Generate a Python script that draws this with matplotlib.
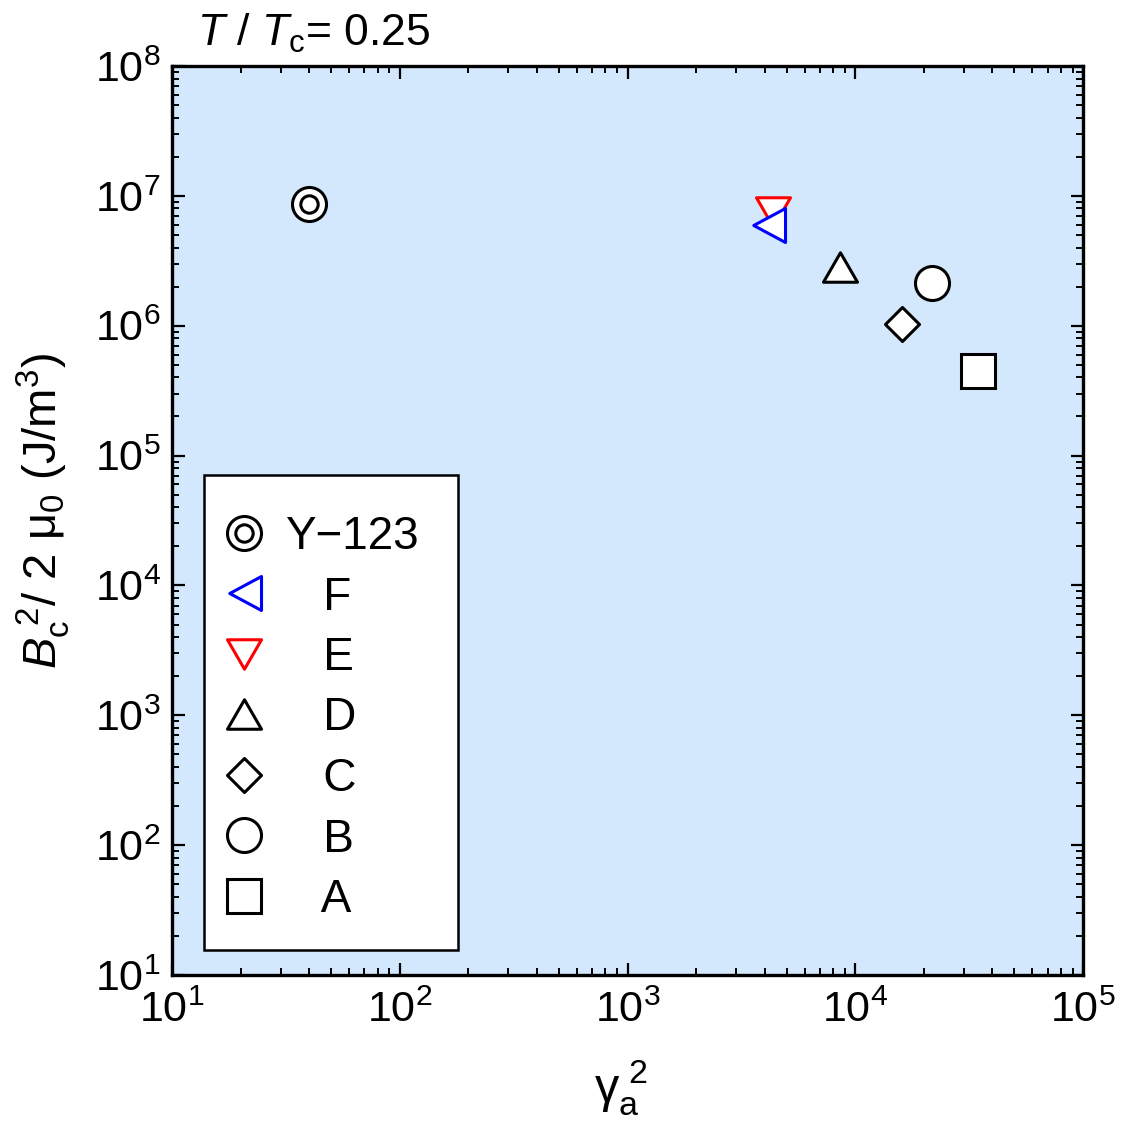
import matplotlib
matplotlib.use("Agg")
import matplotlib.pyplot as plt
from matplotlib.path import Path
from matplotlib.patches import Rectangle
from matplotlib.legend_handler import HandlerTuple
import numpy as np

plt.rcParams['font.family'] = ['Liberation Sans', 'DejaVu Sans']
plt.rcParams['mathtext.fontset'] = 'custom'
plt.rcParams['mathtext.rm'] = 'Liberation Sans'
plt.rcParams['mathtext.it'] = 'Liberation Sans:italic'
plt.rcParams['mathtext.bf'] = 'Liberation Sans:bold'

# ---- data (gamma_a^2, Bc^2/2mu0 in J/m^3) ----
labels = ["Y\u2212123", "F", "E", "D", "C", "B", "A"]
gamma2 = [40.0, 4140.0, 4375.0, 8610.0, 16000.0, 21800.0, 34750.0]
energy = [8.62e6, 5.94e6, 7.55e6, 2.85e6, 1.03e6, 2.14e6, 4.47e5]
colors = ["black", "blue", "red", "black", "black", "black", "black"]

tri_left = Path([(1, -1), (1, 1), (-0.866, 0), (1, -1)], closed=True)
tri_down = Path([(-1, 0.866), (1, 0.866), (0, -0.866), (-1, 0.866)], closed=True)
tri_up = Path([(-1, -0.866), (1, -0.866), (0, 0.866), (-1, -0.866)], closed=True)
diamond = Path([(0, 1), (1, 0), (0, -1), (-1, 0), (0, 1)], closed=True)
markers = [None, tri_left, tri_down, tri_up, diamond, 'o', 's']

fig = plt.figure(figsize=(11.25, 11.27), dpi=100)
ax = fig.add_axes([172/1125, 1 - 975/1127, (1083-172)/1125, (975-66)/1127])
ax.set_facecolor('#D3E8FD')
ax.set_xscale('log')
ax.set_yscale('log')
ax.set_xlim(1e1, 1e5)
ax.set_ylim(1e1, 1e8)

ms = 24.5
mew = 2.2
handles = {}
order = [6, 5, 4, 3, 2, 1, 0]
for i in order:
    if i == 0:
        h1, = ax.plot([gamma2[i]], [energy[i]], ls='none', marker='o', ms=ms,
                      mfc='white', mec='black', mew=mew, zorder=5)
        h2, = ax.plot([gamma2[i]], [energy[i]], ls='none', marker='o', ms=12.5,
                      mfc='white', mec='black', mew=mew, zorder=6)
        handles[i] = (h1, h2)
    else:
        h, = ax.plot([gamma2[i]], [energy[i]], ls='none', marker=markers[i], ms=ms,
                     mfc='white', mec=colors[i], mew=mew, zorder=5)
        handles[i] = h

# legend frame
rect = Rectangle(((204-172)/911, (975-950)/909), (458-204)/911, (950-475)/909,
                 transform=ax.transAxes, facecolor='white', edgecolor='black',
                 lw=1.8, zorder=7)
ax.add_patch(rect)
leg_labels = [labels[0]] + ["   " + l for l in labels[1:]]
leg = ax.legend([handles[i] for i in range(7)], leg_labels,
                handler_map={tuple: HandlerTuple(ndivide=1)},
                loc='upper left', bbox_to_anchor=((221-172)/911, (975-515)/909),
                frameon=False, fontsize=33, borderpad=0, borderaxespad=0,
                handlelength=1.0, handletextpad=0.39, labelspacing=0.36)
leg.set_zorder(8)

for side in ['top', 'bottom', 'left', 'right']:
    ax.spines[side].set_linewidth(2.4)
ax.tick_params(which='both', direction='in', top=True, right=True, labelsize=31)
ax.tick_params(which='major', length=9, width=1.6, pad=8)
ax.tick_params(axis='x', which='major', pad=11)
ax.tick_params(which='minor', length=5, width=1.4)
ax.xaxis.set_major_locator(matplotlib.ticker.LogLocator(base=10, numticks=10))
ax.yaxis.set_major_locator(matplotlib.ticker.LogLocator(base=10, numticks=10))
ax.xaxis.set_minor_locator(matplotlib.ticker.LogLocator(base=10, subs=np.arange(2, 10), numticks=20))
ax.yaxis.set_minor_locator(matplotlib.ticker.LogLocator(base=10, subs=np.arange(2, 10), numticks=20))

ax.set_xlabel(r'$\mathrm{\gamma}_\mathrm{a}^{\ 2}$', fontsize=35)
ax.xaxis.set_label_coords((621-172)/911, (975-1058)/909)
ax.set_ylabel(r'$\mathit{B}_\mathrm{c}^{\ 2}$/ 2 $\mathrm{\mu}_0$ (J/m$^3$)', fontsize=34)
ax.yaxis.set_label_coords((72-172)/911, (975-511)/909)

fig.text(197/1125, 1 - 46/1127, r'$\mathit{T}$ / $\mathit{T}_\mathrm{c}$= 0.25', fontsize=32,
         ha='left', va='baseline')

fig.savefig('out.png', dpi=100)
